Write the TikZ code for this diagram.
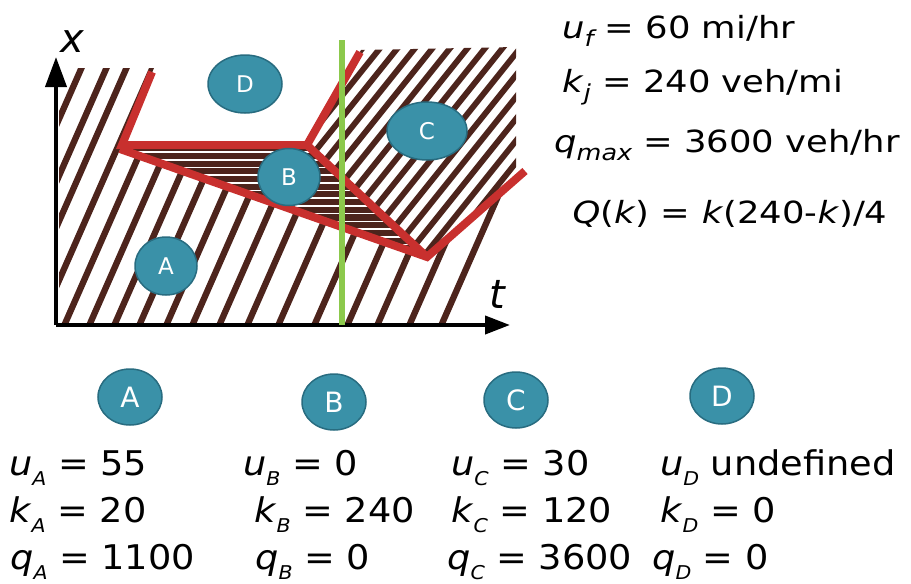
\documentclass[tikz,border=0pt]{standalone}
\usepackage{fontspec}
\setmainfont{DejaVu Sans}
\newfontfamily\toptxt[FakeStretch=1.16]{DejaVu Sans}
\newfontfamily\bottxt[FakeStretch=1.08]{DejaVu Sans}
\usepackage{tikz}
\usetikzlibrary{arrows.meta, shapes.geometric}
\definecolor{trajbrown}{RGB}{77,36,28}
\definecolor{shockred}{RGB}{200,48,46}
\definecolor{detgreen}{RGB}{140,201,76}
\definecolor{zoneteal}{RGB}{58,145,168}
\definecolor{zoneedge}{RGB}{40,108,128}
\newcommand{\tsub}[1]{\raisebox{-0.28em}{\fontsize{22}{22}\selectfont\itshape #1}}
\newcommand{\bsub}[1]{\raisebox{-0.3em}{\fontsize{19}{19}\selectfont\itshape #1}}

\begin{document}
\begin{tikzpicture}[
  x=1pt, y=-1pt,
  trajline/.style={draw=trajbrown, line width=6.3pt},
  shockline/.style={draw=shockred, line width=8pt, line join=miter},
  axisline/.style={draw=black, line width=4pt},
  zone/.style={ellipse, draw=zoneedge, line width=1.5pt, fill=zoneteal, text=white, inner sep=0pt},
  toplabel/.style={anchor=base west, inner sep=0pt, font=\toptxt\fontsize{30.5}{36}\selectfont},
  botlabel/.style={anchor=base west, inner sep=0pt, font=\bottxt\fontsize{34}{40}\selectfont},
]
\useasboundingbox (0,0) rectangle (911,584);

\coordinate (O) at (56,325);
\coordinate (xtop) at (56,57);
\coordinate (tend) at (510,325);

% region A: free flow trajectories
\begin{scope}
  \clip (59,68) -- (154,68) -- (122,147) -- (427,258) -- (530,168) -- (530,323) -- (59,323) -- cycle;
  \foreach \s in {-36,-11,9,35,60,85,110,135,162,188,215,243,274,310,343,373,405,437}
    \draw[trajline] (\s,335) -- ++(123.2,-280);
\end{scope}

% region C: discharge trajectories
\begin{scope}
  \clip (307,145) -- (361,50) -- (516,47) -- (516,180) -- (427,257) -- cycle;
  \foreach \k in {-9,...,6}
    \draw[trajline, line width=5.8pt] ({294.6+17.5*\k},330) -- ++(232,-290);
\end{scope}

% region B: stopped vehicles
\begin{scope}
  \fill[trajbrown] (122,147) -- (307,147) -- (427,257) -- cycle;
  \clip (122,147) -- (307,147) -- (427,257) -- cycle;
  \foreach \y in {152,159.7,...,252}
    \draw[white, line width=1.6pt] (110,\y) -- (440,\y);
\end{scope}

% axes
\draw[axisline, -{Triangle[length=30pt, width=21pt]}] (O) -- (xtop);
\draw[axisline, -{Triangle[length=25pt, width=18pt]}] (O) -- (tend);
\node[font=\itshape\fontsize{40}{40}\selectfont, inner sep=0pt] (xlab) at (72,42) {x};
\node[font=\itshape\fontsize{40}{40}\selectfont, inner sep=0pt] (tlab) at (497,294) {t};

% shock waves
\draw[shockline] (152,72) -- (122,145) -- (307,145) -- (360,52);
\draw[shockline] (120,149) -- (427,257) -- (525,171);
\draw[shockline] (307,145) -- (427,257);

% detector
\draw[detgreen, line width=6.5pt] (342,40) -- (342,325);

% region labels in the plot
\node[zone, minimum width=74pt, minimum height=58pt, font=\fontsize{23}{23}\selectfont] (zD) at (245,84) {D};
\node[zone, minimum width=80pt, minimum height=58pt, font=\fontsize{23}{23}\selectfont] (zC) at (427,131) {C};
\node[zone, minimum width=62pt, minimum height=57pt, font=\fontsize{23}{23}\selectfont] (zB) at (289,177) {B};
\node[zone, minimum width=62pt, minimum height=58pt, font=\fontsize{23}{23}\selectfont] (zA) at (166,266) {A};

% parameters
\node[toplabel] (uf) at (562,38) {\textit{u}\tsub{f} = 60 mi/hr};
\node[toplabel] (kj) at (562,92) {\textit{k}\tsub{j} = 240 veh/mi};
\node[toplabel] (qmax) at (554,152) {\textit{q}\tsub{max} = 3600 veh/hr};
\node[toplabel, anchor=base] (Qk) at (730,223) {\textit{Q}(\textit{k}) = \textit{k}(240-\textit{k})/4};

% states
\node[zone, minimum width=64pt, minimum height=56pt, font=\fontsize{28}{28}\selectfont] (sA) at (130,397) {A};
\node[zone, minimum width=64pt, minimum height=56pt, font=\fontsize{28}{28}\selectfont] (sB) at (334,402) {B};
\node[zone, minimum width=64pt, minimum height=56pt, font=\fontsize{28}{28}\selectfont] (sC) at (516,400) {C};
\node[zone, minimum width=64pt, minimum height=56pt, font=\fontsize{28}{28}\selectfont] (sD) at (722,396) {D};

\node[botlabel] (uA) at (9,475) {\textit{u}\bsub{A} = 55};
\node[botlabel] (kA) at (9,522) {\textit{k}\bsub{A} = 20};
\node[botlabel] (qA) at (10,569) {\textit{q}\bsub{A} = 1100};
\node[botlabel] (uB) at (243,475) {\textit{u}\bsub{B} = 0};
\node[botlabel] (kB) at (254,522) {\textit{k}\bsub{B} = 240};
\node[botlabel] (qB) at (255,569) {\textit{q}\bsub{B} = 0};
\node[botlabel] (uC) at (451,475) {\textit{u}\bsub{C} = 30};
\node[botlabel] (kC) at (451,522) {\textit{k}\bsub{C} = 120};
\node[botlabel] (qC) at (447,569) {\textit{q}\bsub{C} = 3600};
\node[botlabel] (uD) at (660,475) {\textit{u}\bsub{D} undefined};
\node[botlabel] (kD) at (660,522) {\textit{k}\bsub{D} = 0};
\node[botlabel] (qD) at (652,569) {\textit{q}\bsub{D} = 0};
\end{tikzpicture}
\end{document}
